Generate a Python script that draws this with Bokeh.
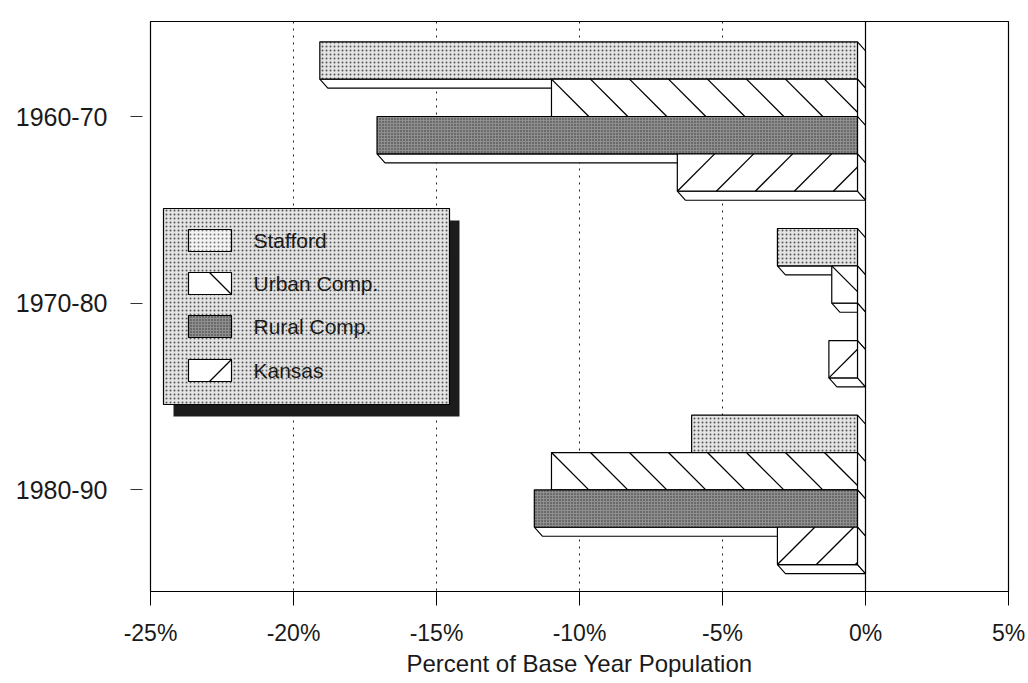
from bokeh.plotting import figure
from bokeh.models import Range1d, FixedTicker, PrintfTickFormatter, Span
from bokeh.core.properties import value
from bokeh.embed import file_html
from bokeh.resources import INLINE

# ---------------- data ----------------
periods = ["1960-70", "1970-80", "1980-90"]
series_names = ["Stafford", "Urban Comp.", "Rural Comp.", "Kansas"]
stafford = [-18.8, -2.8, -5.8]
urban = [-10.7, -0.9, -10.7]
rural = [-16.8, 0.0, -11.3]
kansas = [-6.3, -1.0, -2.8]
x_ticks = [-25, -20, -15, -10, -5, 0, 5]
x_title = "Percent of Base Year Population"

# ---------------- layout helpers ----------------
W, H = 1028, 683
FL, FR, FT, FB = 150, 1008, 21, 591
X0, X1 = -25, 5
CAT_PX = 186.7
CAT0_PX = 95
Y_TOP = -CAT0_PX / CAT_PX
Y_BOT = Y_TOP + (FB - FT) / CAT_PX
FONT = "Liberation Sans"
UX = (X1 - X0) / (FR - FL)   # data units per pixel (x)
UY = 1.0 / CAT_PX            # data units per pixel (y, downward)


def px_x(px):
    return X0 + (px - FL) * UX


def px_y(py):
    return Y_TOP + (py - FT) * UY


p = figure(width=W, height=H,
           x_range=Range1d(X0, X1), y_range=Range1d(Y_BOT, Y_TOP),
           output_backend="svg", toolbar_location=None,
           min_border_left=FL, min_border_right=W - FR,
           min_border_top=FT, min_border_bottom=H - FB)
p.background_fill_color = "white"
p.border_fill_color = "white"
p.outline_line_color = "black"
p.outline_line_width = 1.2

# axes
xa = p.xaxis[0]
xa.ticker = FixedTicker(ticks=x_ticks)
xa.formatter = PrintfTickFormatter(format="%d%%")
xa.axis_label = x_title
xa.axis_label_text_font = FONT
xa.axis_label_text_font_size = "24px"
xa.axis_label_text_font_style = "normal"
xa.axis_label_text_color = "#1a1a1a"
xa.axis_label_standoff = 1
xa.major_label_text_font = FONT
xa.major_label_text_font_size = "23px"
xa.major_label_text_color = "#1a1a1a"
xa.major_label_standoff = 14
xa.major_tick_in = 0
xa.major_tick_out = 14
xa.major_tick_line_color = "black"
xa.minor_tick_line_color = None
xa.axis_line_color = "black"
xa.axis_line_width = 1.2

ya = p.yaxis[0]
ya.ticker = FixedTicker(ticks=list(range(len(periods))))
ya.major_label_overrides = {i: lab for i, lab in enumerate(periods)}
ya.major_label_text_font = FONT
ya.major_label_text_font_size = "25px"
ya.major_label_text_color = "#1a1a1a"
ya.major_label_standoff = 23
ya.major_tick_in = -8
ya.major_tick_out = 20
ya.major_tick_line_color = "#333333"
ya.minor_tick_line_color = None
ya.axis_line_color = None

p.xgrid.ticker = FixedTicker(ticks=x_ticks)
p.xgrid.grid_line_color = "#222222"
p.xgrid.grid_line_dash = "2 5"
p.xgrid.grid_line_width = 1
p.ygrid.grid_line_color = None

p.add_layout(Span(location=0, dimension="height", line_color="black", line_width=1.2))

# ---------------- bars (3-D look) ----------------
dx = 8 * UX
dy = 9 * UY
bar_h = 0.2
offsets = [-0.3, -0.1, 0.1, 0.3]
HSTEP = 39  # px between hatch lines
styles = [
    dict(fill_color="#e4e4e4", hatch_pattern="dot", hatch_scale=4, hatch_color="#555555", hatch_weight=1),
    dict(fill_color="white"),
    dict(fill_color="#8f8f8f", hatch_pattern="dot", hatch_scale=3, hatch_color="#303030", hatch_weight=1),
    dict(fill_color="white"),
]
hatch_dir = [None, "back", None, "fwd"]
series = [stafford, urban, rural, kansas]


def hatch_segments(xl, xr, yt, yb, direction, step=HSTEP):
    """45-degree hatch lines inside a face, starting at its left edge."""
    w_px = (xr - xl) / UX
    h_px = (yb - yt) / UY
    x0s, y0s, x1s, y1s = [], [], [], []
    off = 0.0
    while off < w_px - 0.5:
        run = min(h_px, w_px - off)
        xs = xl + off * UX
        if direction == "back":      # "\"
            x0s.append(xs); y0s.append(yt)
            x1s.append(xs + run * UX); y1s.append(yt + run * UY)
        else:                        # "/"
            x0s.append(xs); y0s.append(yb)
            x1s.append(xs + run * UX); y1s.append(yb - run * UY)
        off += step
    return x0s, y0s, x1s, y1s


for k, (vals, st) in enumerate(zip(series, styles)):
    left, right, top, bottom = [], [], [], []
    bxs, bys, sxs, sys_ = [], [], [], []
    hx0, hy0, hx1, hy1 = [], [], [], []
    for i, v in enumerate(vals):
        yc = i + offsets[k]
        yt = yc - bar_h / 2
        yb = yc + bar_h / 2
        xl = v - dx
        xr = -dx
        bxs.append([xl, xr, 0, v])
        bys.append([yb, yb, yb + dy, yb + dy])
        sxs.append([xr, 0, 0, xr])
        sys_.append([yt, yt + dy, yb + dy, yb])
        left.append(xl)
        right.append(xr)
        top.append(yt)
        bottom.append(yb)
        if hatch_dir[k]:
            a, b, c, d = hatch_segments(xl, xr, yt, yb, hatch_dir[k])
            hx0 += a; hy0 += b; hx1 += c; hy1 += d
    p.patches(bxs, bys, fill_color="white", line_color="black", line_width=1.1)
    p.patches(sxs, sys_, fill_color="white", line_color="black", line_width=1.1)
    p.quad(left=left, right=right, top=top, bottom=bottom,
           line_color="black", line_width=1.2, **st)
    if hx0:
        p.segment(x0=hx0, y0=hy0, x1=hx1, y1=hy1, line_color="black", line_width=1.3)

# ---------------- legend (drawn box with shadow) ----------------
LB_L, LB_R, LB_T, LB_B = 163, 449, 208, 404
p.quad(left=[px_x(LB_L + 10)], right=[px_x(LB_R + 10)],
       top=[px_y(LB_T + 12)], bottom=[px_y(LB_B + 12)],
       fill_color="#1c1c1c", line_color=None)
p.quad(left=[px_x(LB_L)], right=[px_x(LB_R)], top=[px_y(LB_T)], bottom=[px_y(LB_B)],
       line_color="black", line_width=1.2, **styles[0])

sw_l, sw_r = 188, 231
centers = [240, 283, 326, 370]
SW_H = 22
for k, name in enumerate(series_names):
    cy = centers[k]
    st = dict(styles[k])
    if k == 0:
        st = dict(fill_color="#f4f4f4", hatch_pattern="dot", hatch_scale=4, hatch_color="#777777", hatch_weight=1)
    p.quad(left=[px_x(sw_l)], right=[px_x(sw_r)], top=[px_y(cy - SW_H / 2)], bottom=[px_y(cy + SW_H / 2)],
           line_color="black", line_width=1.2, **st)
    if hatch_dir[k] == "back":
        p.segment(x0=[px_x(sw_r - SW_H)], y0=[px_y(cy - SW_H / 2)],
                  x1=[px_x(sw_r)], y1=[px_y(cy + SW_H / 2)], line_color="black", line_width=1.3)
    elif hatch_dir[k] == "fwd":
        p.segment(x0=[px_x(sw_r - SW_H)], y0=[px_y(cy + SW_H / 2)],
                  x1=[px_x(sw_r)], y1=[px_y(cy - SW_H / 2)], line_color="black", line_width=1.3)
    p.text(x=[px_x(253)], y=[px_y(cy)], text=[name], text_font=value(FONT),
           text_font_size="21px", text_baseline="middle", text_align="left",
           text_color="#1a1a1a")

open("out.html", "w").write(file_html(p, INLINE))
